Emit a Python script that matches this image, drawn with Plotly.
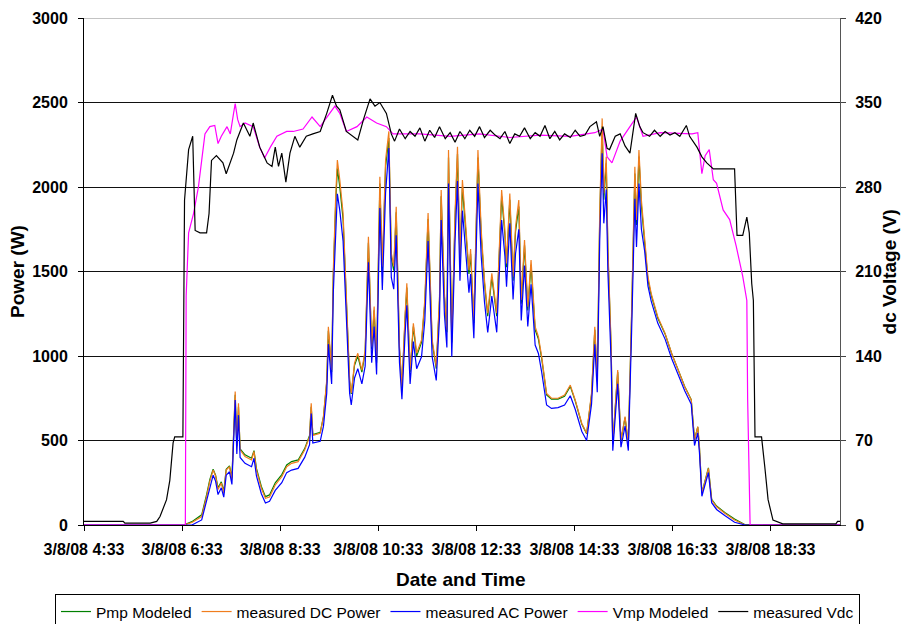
import plotly.graph_objects as go

DAY = "2008-03-08 "

# ---- Power series (W), left axis ----
power_times = [
    "04:33", "06:35", "06:45", "06:57", "07:03", "07:07", "07:11", "07:14", "07:17", "07:21",
    "07:24", "07:27", "07:31", "07:34", "07:38", "07:40", "07:42", "07:44", "07:50", "07:58",
    "08:01", "08:04", "08:10", "08:15", "08:20", "08:27", "08:35", "08:41", "08:47", "08:55",
    "09:03", "09:09", "09:11", "09:13", "09:22", "09:26", "09:30", "09:32", "09:36", "09:38",
    "09:41", "09:43", "09:46", "09:50", "09:54", "09:58", "10:00", "10:04", "10:08", "10:13",
    "10:17", "10:21", "10:25", "10:28", "10:31", "10:35", "10:38", "10:42", "10:46", "10:49",
    "10:52", "10:55", "10:59", "11:02", "11:06", "11:08", "11:12", "11:16", "11:20", "11:26",
    "11:30", "11:34", "11:39", "11:44", "11:48", "11:50", "11:54", "11:57", "11:59", "12:03",
    "12:07", "12:10", "12:13", "12:16", "12:19", "12:24", "12:26", "12:30", "12:35", "12:39",
    "12:43", "12:47", "12:52", "12:54", "12:58", "13:04", "13:08", "13:10", "13:14", "13:18",
    "13:21", "13:25", "13:28", "13:32", "13:36", "13:40", "13:45", "13:49", "13:53", "13:59",
    "14:05", "14:13", "14:21", "14:28", "14:34", "14:42", "14:48", "14:54", "14:58", "15:01",
    "15:04", "15:07", "15:09", "15:12", "15:14", "15:18", "15:20", "15:26", "15:30", "15:35",
    "15:39", "15:43", "15:47", "15:49", "15:52", "15:55", "15:59", "16:03", "16:07", "16:15",
    "16:24", "16:32", "16:40", "16:48", "16:56", "17:00", "17:04", "17:06", "17:09", "17:13",
    "17:17", "17:21", "17:27", "17:37", "17:49", "18:02", "19:58",
]

pmp_modeled = [
    0, 0, 20, 60, 180, 270, 330, 295, 220, 255,
    200, 330, 350, 280, 770, 470, 700, 450, 415, 395,
    440, 335, 228, 168, 178, 250, 298, 355, 375, 385,
    452, 530, 700, 535, 548, 640, 845, 1150, 905, 1470,
    1910, 2110, 2000, 1810, 1330, 850, 775, 945, 1000, 905,
    1020, 1670, 1040, 1270, 960, 2020, 1500, 2120, 2290, 1580,
    1505, 1850, 1040, 810, 1235, 1405, 905, 1175, 1000, 1080,
    1310, 1810, 1080, 925, 1330, 1945, 1350, 1140, 2175, 1080,
    1810, 2195, 1560, 2000, 1810, 1485, 1605, 1195, 2175, 1715,
    1430, 1235, 1465, 1390, 1235, 1945, 1715, 1525, 1925, 1445,
    1735, 1885, 1310, 1655, 1270, 1540, 1155, 1100, 985, 770,
    745, 745, 762, 820, 735, 598, 540, 770, 1155, 850,
    1810, 2360, 1925, 2140, 1620, 1040, 480, 905, 500, 635,
    480, 1235, 2080, 1775, 2180, 1890, 1660, 1450, 1360, 1225,
    1130, 1015, 918, 820, 742, 505, 580, 462, 190, 270,
    338, 152, 112, 74, 35, 2, 0,
]

measured_dc_power = [
    0, 0, 15, 50, 168, 260, 325, 290, 210, 248,
    190, 325, 345, 270, 790, 465, 720, 445, 405, 385,
    435, 325, 217, 158, 165, 237, 286, 345, 365, 375,
    444, 523, 720, 530, 543, 641, 858, 1173, 917, 1500,
    1950, 2160, 2041, 1846, 1351, 858, 781, 958, 1016, 917,
    1034, 1706, 1055, 1292, 976, 2061, 1528, 2160, 2330, 1609,
    1530, 1883, 1055, 818, 1254, 1430, 917, 1193, 1016, 1095,
    1331, 1846, 1095, 937, 1351, 1982, 1370, 1154, 2219, 1095,
    1846, 2238, 1588, 2041, 1846, 1509, 1633, 1213, 2219, 1745,
    1450, 1254, 1489, 1410, 1254, 1982, 1745, 1548, 1962, 1469,
    1765, 1923, 1331, 1686, 1292, 1568, 1173, 1114, 996, 779,
    750, 750, 769, 828, 740, 602, 543, 779, 1173, 858,
    1846, 2406, 1962, 2179, 1647, 1055, 483, 917, 503, 641,
    483, 1254, 2120, 1805, 2219, 1923, 1686, 1469, 1371, 1233,
    1134, 1016, 917, 818, 740, 503, 582, 463, 187, 266,
    335, 148, 108, 69, 30, 0, 0,
]

measured_ac_power = [
    0, 0, 0, 30, 140, 230, 295, 260, 180, 220,
    165, 295, 315, 240, 740, 420, 650, 400, 365, 345,
    395, 290, 185, 130, 140, 205, 250, 310, 325, 335,
    400, 475, 660, 485, 495, 585, 780, 1070, 835, 1370,
    1780, 1960, 1860, 1680, 1230, 780, 710, 870, 925, 835,
    940, 1555, 960, 1175, 890, 1875, 1390, 1965, 2230, 1465,
    1395, 1715, 960, 745, 1140, 1300, 835, 1085, 925, 995,
    1210, 1680, 995, 855, 1230, 1805, 1245, 1050, 2020, 995,
    1680, 2035, 1445, 1860, 1680, 1375, 1485, 1105, 2020, 1590,
    1320, 1140, 1355, 1285, 1140, 1805, 1590, 1410, 1785, 1335,
    1605, 1750, 1210, 1535, 1175, 1425, 1065, 1015, 905, 710,
    690, 695, 710, 765, 685, 555, 500, 715, 1070, 785,
    1680, 2200, 1785, 1985, 1500, 960, 440, 835, 460, 585,
    440, 1140, 1930, 1645, 2020, 1750, 1620, 1415, 1325, 1195,
    1100, 985, 890, 795, 715, 470, 545, 430, 170, 245,
    310, 132, 92, 56, 16, 0, 0,
]

# ---- Voltage series (V), right axis ----
vmp_times = [
    "04:33", "06:37", "06:38", "06:41", "06:47", "06:53", "06:57", "07:01", "07:07", "07:13",
    "07:17", "07:21", "07:28", "07:32", "07:36", "07:38", "07:41", "07:44", "07:50", "08:00",
    "08:08", "08:14", "08:21", "08:29", "08:41", "08:49", "09:01", "09:12", "09:22", "09:34",
    "09:40", "09:46", "09:54", "10:07", "10:19", "10:31", "10:43", "10:51", "11:24", "12:01",
    "12:37", "13:14", "13:51", "14:28", "14:58", "15:08", "15:13", "15:19", "15:29", "15:41",
    "15:49", "15:57", "16:18", "16:57", "17:04", "17:09", "17:13", "17:18", "17:23", "17:27",
    "17:35", "17:43", "17:51", "17:59", "18:04", "18:05", "18:08", "19:58",
]
vmp_modeled = [
    0, 0, 190, 242, 258, 280, 302, 324, 330, 331,
    316, 322, 330, 324, 341, 349, 336, 330, 333, 330,
    313, 304, 313, 322, 326, 326, 328, 338, 330, 342,
    347, 341, 326, 330, 338, 333, 330, 324, 324, 322,
    324, 321, 323, 322, 325, 328, 305, 300, 318, 330,
    338, 322, 325, 324, 325, 291, 306, 311, 286, 283,
    261, 253, 231, 206, 186, 104, 0, 0,
]

vdc_times = [
    "04:33", "05:21", "05:23", "05:54", "06:02", "06:06", "06:14", "06:18", "06:22", "06:24",
    "06:34", "06:36", "06:41", "06:46", "06:49", "06:55", "07:03", "07:06", "07:09", "07:15",
    "07:23", "07:27", "07:36", "07:40", "07:48", "07:56", "08:00", "08:08", "08:17", "08:23",
    "08:27", "08:31", "08:35", "08:40", "08:45", "08:51", "08:57", "09:05", "09:13", "09:22",
    "09:30", "09:37", "09:42", "09:46", "09:54", "10:02", "10:08", "10:15", "10:23", "10:29",
    "10:35", "10:43", "10:49", "10:53", "10:59", "11:06", "11:12", "11:18", "11:24", "11:30",
    "11:36", "11:42", "11:48", "11:55", "12:01", "12:07", "12:13", "12:19", "12:25", "12:31",
    "12:37", "12:43", "12:50", "12:56", "13:02", "13:08", "13:14", "13:20", "13:26", "13:32",
    "13:39", "13:45", "13:51", "13:57", "14:03", "14:09", "14:15", "14:21", "14:28", "14:34",
    "14:40", "14:46", "14:52", "15:00", "15:04", "15:08", "15:13", "15:16", "15:23", "15:29",
    "15:35", "15:41", "15:45", "15:48", "15:53", "15:57", "16:05", "16:11", "16:18", "16:24",
    "16:30", "16:36", "16:42", "16:50", "16:54", "17:03", "17:09", "17:15", "17:23", "17:49",
    "17:52", "17:59", "18:04", "18:07", "18:10", "18:12", "18:14", "18:22", "18:26", "18:30",
    "18:36", "18:48", "19:53", "19:55", "19:58",
]
measured_vdc = [
    3, 3, 1.5, 1.5, 3, 7, 21, 37, 68, 73,
    73, 269, 311, 322, 244, 242, 242, 258, 302, 306,
    300, 291, 308, 319, 333, 322, 333, 313, 300, 297,
    313, 297, 308, 284, 308, 322, 313, 322, 324, 326,
    341, 356, 347, 344, 326, 322, 319, 336, 353, 347,
    350, 341, 324, 318, 328, 320, 326, 322, 329, 318,
    327, 321, 330, 320, 325, 317, 326, 320, 327, 322,
    330, 321, 327, 323, 320, 326, 316, 324, 322, 329,
    320, 325, 322, 331, 320, 326, 319, 324, 321, 327,
    322, 323, 330, 334, 322, 330, 312, 311, 322, 324,
    314, 308, 325, 341, 330, 325, 322, 327, 322, 326,
    323, 325, 322, 331, 322, 313, 305, 300, 295, 295,
    240, 240, 255, 242, 200, 186, 73, 73, 48, 21,
    4, 1, 1, 3, 3,
]

tick_times = ["04:33", "06:33", "08:33", "10:33", "12:33", "14:33", "16:33", "18:33"]
tick_labels = ["3/8/08 4:33", "3/8/08 6:33", "3/8/08 8:33", "3/8/08 10:33",
               "3/8/08 12:33", "3/8/08 14:33", "3/8/08 16:33", "3/8/08 18:33"]


def stamp(ts):
    return [DAY + t for t in ts]


FONT = "Liberation Sans, Arial, sans-serif"

fig = go.Figure()
fig.add_trace(go.Scatter(x=stamp(power_times), y=pmp_modeled, name="Pmp Modeled",
                         mode="lines", line=dict(color="#008000", width=1.2)))
fig.add_trace(go.Scatter(x=stamp(power_times), y=measured_dc_power, name="measured DC Power",
                         mode="lines", line=dict(color="#F07D1E", width=1.2)))
fig.add_trace(go.Scatter(x=stamp(power_times), y=measured_ac_power, name="measured AC Power",
                         mode="lines", line=dict(color="#0000FF", width=1.2)))
fig.add_trace(go.Scatter(x=stamp(vmp_times), y=vmp_modeled, name="Vmp Modeled",
                         mode="lines", line=dict(color="#FF00FF", width=1.2), yaxis="y2"))
fig.add_trace(go.Scatter(x=stamp(vdc_times), y=measured_vdc, name="measured Vdc",
                         mode="lines", line=dict(color="#000000", width=1.2), yaxis="y2"))

fig.update_layout(
    width=901, height=616,
    margin=dict(l=76, r=69, t=10, b=99, autoexpand=False),
    paper_bgcolor="white", plot_bgcolor="white",
    font=dict(family=FONT, color="black"),
    showlegend=True,
    legend=dict(orientation="h", x=-0.0384, xanchor="left", y=-0.136, yanchor="top",
                bordercolor="black", borderwidth=1, font=dict(size=15.5, family=FONT),
                itemwidth=30, tracegroupgap=0, bgcolor="white"),
    xaxis=dict(type="date", range=[DAY + "04:33", DAY + "19:58"],
               tickvals=stamp(tick_times), ticktext=tick_labels,
               ticks="outside", ticklen=5, tickcolor="black", tickwidth=1,
               showline=True, linecolor="black", linewidth=1,
               showgrid=False, zeroline=False, automargin=False,
               tickfont=dict(size=16, weight="bold", family=FONT),
               ticklabelstandoff=5),
    yaxis=dict(range=[0, 3000], dtick=500, tick0=0,
               ticks="outside", ticklen=5, tickcolor="black",
               showline=True, linecolor="black", linewidth=1,
               showgrid=True, gridcolor="#111111", gridwidth=1, zeroline=False,
               automargin=False,
               tickfont=dict(size=16, weight="bold", family=FONT),
               ticklabelstandoff=7),
    yaxis2=dict(range=[0, 420], dtick=70, tick0=0, overlaying="y", side="right",
                ticks="outside", ticklen=5, tickcolor="#444444",
                showline=True, linecolor="#555555", linewidth=1,
                showgrid=False, zeroline=False, automargin=False,
                tickfont=dict(size=16, weight="bold", family=FONT),
                ticklabelstandoff=6),
    shapes=[
        dict(type="line", xref="paper", yref="y", x0=0, x1=1, y0=3000, y1=3000,
             line=dict(color="#888888", width=1), layer="below"),
    ],
    annotations=[
        dict(text="<b>Date and Time</b>", xref="paper", yref="paper", x=0.499, y=-0.108,
             xanchor="center", yanchor="middle", showarrow=False, font=dict(size=19)),
        dict(text="<b>Power (W)</b>", xref="paper", yref="paper", x=-0.088, y=0.5,
             xanchor="center", yanchor="middle", textangle=-90, showarrow=False,
             font=dict(size=19)),
        dict(text="<b>dc Voltage (V)</b>", xref="paper", yref="paper", x=1.066, y=0.5,
             xanchor="center", yanchor="middle", textangle=-90, showarrow=False,
             font=dict(size=19)),
    ],
)

fig.write_html("out.html")
